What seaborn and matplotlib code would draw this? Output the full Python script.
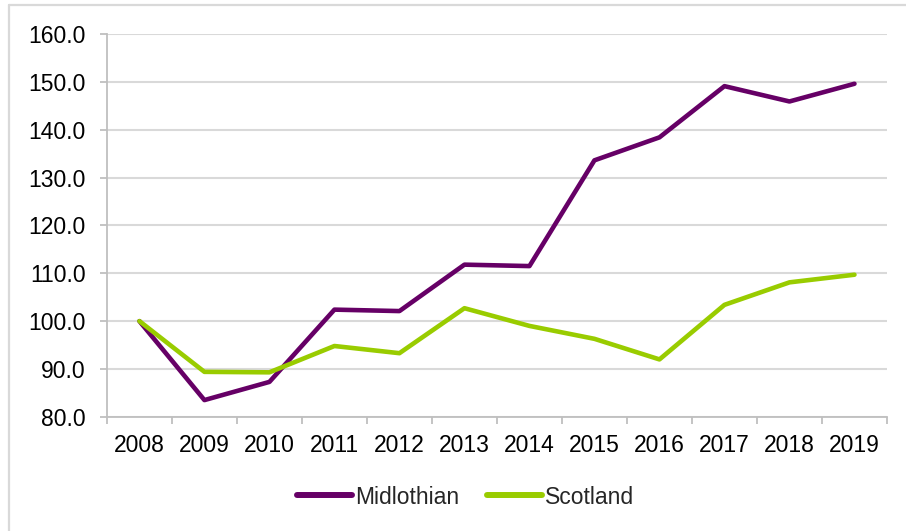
import matplotlib
matplotlib.use("Agg")
import matplotlib.pyplot as plt
import seaborn as sns
import pandas as pd
import numpy as np
from matplotlib.lines import Line2D

years = ["2008", "2009", "2010", "2011", "2012", "2013",
         "2014", "2015", "2016", "2017", "2018", "2019"]
midlothian = [100.0, 83.5, 87.3, 102.4, 102.1, 111.8, 111.5, 133.6, 138.4, 149.1, 145.9, 149.6]
scotland = [100.0, 89.4, 89.3, 94.8, 93.3, 102.7, 99.0, 96.3, 92.0, 103.4, 108.1, 109.7]
series_names = ["Midlothian", "Scotland"]
y_ticks = [80, 90, 100, 110, 120, 130, 140, 150, 160]

df = pd.DataFrame({
    "year": years * 2,
    "pos": list(range(len(years))) * 2,
    "value": midlothian + scotland,
    "area": [series_names[0]] * len(years) + [series_names[1]] * len(years),
})

sns.set_theme(style="white")
plt.rcParams["font.family"] = ["Liberation Sans", "DejaVu Sans"]

FS = 16.5
fig = plt.figure(figsize=(9.06, 5.31), dpi=100)
ax = fig.add_axes([0.118, 0.215, 0.861, 0.721])

palette = {"Midlothian": "#660066", "Scotland": "#99CC00"}
sns.lineplot(data=df, x="pos", y="value", hue="area", palette=palette,
             linewidth=3.3, ax=ax, legend=False, solid_capstyle="round",
             solid_joinstyle="round")

ax.set_xlim(-0.5, len(years) - 0.5)
ax.set_ylim(80, 160)
ax.set_yticks(y_ticks)
ax.set_yticklabels([f"{v:.1f}" for v in y_ticks])
ax.set_xticks(range(len(years)))
ax.set_xticklabels(years)
ax.set_xticks(np.arange(-0.5, len(years), 1.0), minor=True)
ax.set_xlabel("")
ax.set_ylabel("")

grid_c = "#d9d9d9"
ax.yaxis.grid(True, color=grid_c, linewidth=1.5)
ax.xaxis.grid(False)
ax.set_axisbelow(True)
for s in ["top", "right"]:
    ax.spines[s].set_visible(False)
for s in ["left", "bottom"]:
    ax.spines[s].set_color("#bfbfbf")
    ax.spines[s].set_linewidth(1.3)

ax.tick_params(axis="x", which="major", length=0, pad=12, labelsize=FS, labelcolor="black")
ax.tick_params(axis="x", which="minor", length=5, width=1.3, color="#bfbfbf", bottom=True)
ax.tick_params(axis="y", which="major", length=5, width=1.3, color="#bfbfbf", left=True,
               pad=10.5, labelsize=FS, labelcolor="black")

handles = [Line2D([], [], color=palette[n], linewidth=4.3, solid_capstyle="round")
           for n in series_names]
fig.legend(handles, series_names, loc="center", bbox_to_anchor=(0.514, 0.064),
           ncol=2, frameon=False, fontsize=FS, handlelength=2.4,
           handletextpad=0.15, columnspacing=1.2)

# light frame on the left and top edges
border = "#d9d9d9"
fig.add_artist(Line2D([8.5 / 906, 8.5 / 906], [0, 1 - 5 / 531], transform=fig.transFigure,
                      color=border, linewidth=1.6))
fig.add_artist(Line2D([8.5 / 906, 1], [1 - 5 / 531, 1 - 5 / 531], transform=fig.transFigure,
                      color=border, linewidth=1.6))

fig.savefig("out.png", dpi=100, facecolor="white")
